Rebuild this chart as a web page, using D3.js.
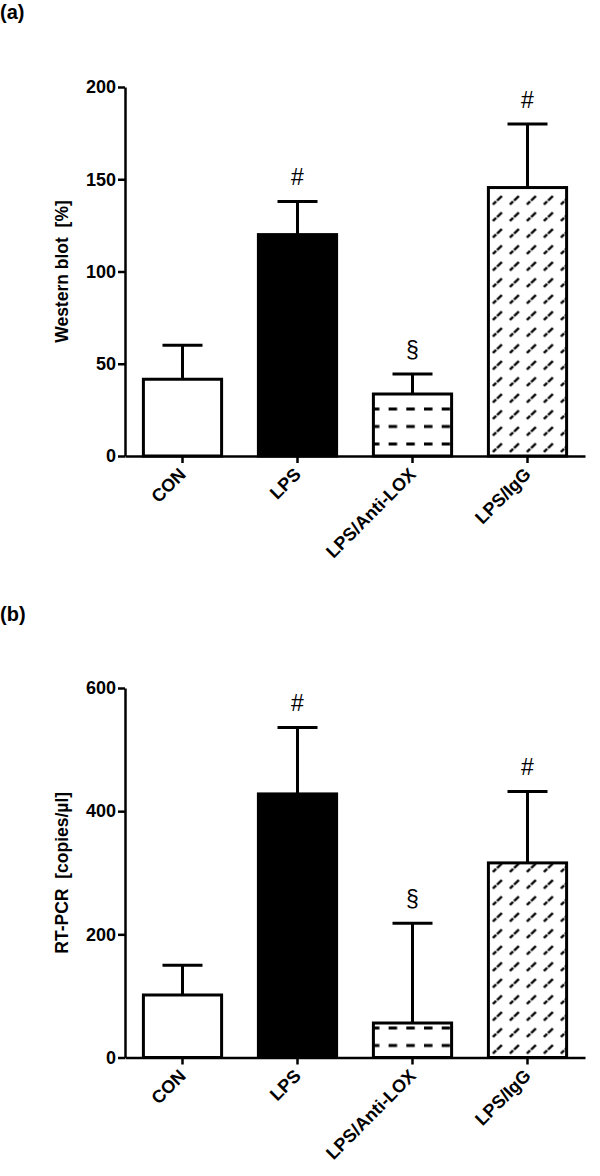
<!DOCTYPE html>
<html>
<head>
<meta charset="utf-8">
<script src="https://cdn.jsdelivr.net/npm/d3@7"></script>
<style>
  body { margin: 0; background: #fff; }
  svg { display: block; }
  text { font-family: "Liberation Sans", Arial, sans-serif; }
</style>
</head>
<body>
<script>
// groups on the x axis
var groups = ["CON", "LPS", "LPS/Anti-LOX", "LPS/IgG"];
// fill style of each group
var fills = ["white", "black", "dash", "slash"];

// (a) western blot, mean and upper error
var wbMean = [41.6, 120, 33.6, 145.5];
var wbErr  = [60, 138, 44.5, 180];
var wbTicks = [0, 50, 100, 150, 200];

// (b) RT-PCR, mean and upper error
var pcrMean = [101.5, 428, 56, 316];
var pcrErr  = [150, 536, 218, 432];
var pcrTicks = [0, 200, 400, 600];

// significance marks over each bar
var marks = ["", "#", "\u00a7", "#"];

var W = 600, H = 1176;
var svg = d3.select("body").append("svg")
    .attr("width", W)
    .attr("height", H);

var defs = svg.append("defs");

var x = d3.scaleBand()
    .domain(groups)
    .range([125, 585])
    .paddingInner(0.32)
    .paddingOuter(0.16);

function makePatterns(id, y0) {
  // horizontal dashes
  var p1 = defs.append("pattern")
      .attr("id", "dash" + id)
      .attr("patternUnits", "userSpaceOnUse")
      .attr("x", x("LPS/Anti-LOX") - 2.5)
      .attr("y", y0 - 12 - 8.75)
      .attr("width", 17.7)
      .attr("height", 17.5);
  p1.append("rect").attr("width", 17.7).attr("height", 17.5).attr("fill", "white");
  p1.append("line")
      .attr("x1", 0).attr("x2", 8.5)
      .attr("y1", 8.75).attr("y2", 8.75)
      .attr("stroke", "black").attr("stroke-width", 3);

  // little broken slashes
  var p2 = defs.append("pattern")
      .attr("id", "slash" + id)
      .attr("patternUnits", "userSpaceOnUse")
      .attr("x", x("LPS/IgG") + 2)
      .attr("y", y0)
      .attr("width", 17)
      .attr("height", 16.5);
  p2.append("rect").attr("width", 17).attr("height", 16.5).attr("fill", "white");
  p2.append("line")
      .attr("x1", 2.5).attr("y1", 12.5)
      .attr("x2", 11.5).attr("y2", 4)
      .attr("stroke", "black").attr("stroke-width", 2.3)
      .attr("stroke-dasharray", "4.5,1.3,8");
}

function drawPanel(id, mean, err, ticks, yRange, yLabel, letter, letterY) {
  var y = d3.scaleLinear()
      .domain([0, d3.max(ticks)])
      .range(yRange);
  var y0 = y(0);

  makePatterns(id, y0);

  var g = svg.append("g");

  g.append("text")
      .attr("x", 0)
      .attr("y", letterY)
      .attr("font-size", 20)
      .attr("font-weight", "bold")
      .text(letter);

  // error bars (drawn first so the bar covers the stem)
  var bw = x.bandwidth();
  var capW = 40;
  groups.forEach(function(d, i) {
    var cx = x(d) + bw / 2;
    g.append("line")
        .attr("x1", cx).attr("x2", cx)
        .attr("y1", y(mean[i])).attr("y2", y(err[i]))
        .attr("stroke", "black").attr("stroke-width", 3);
    g.append("line")
        .attr("x1", cx - capW / 2).attr("x2", cx + capW / 2)
        .attr("y1", y(err[i])).attr("y2", y(err[i]))
        .attr("stroke", "black").attr("stroke-width", 3);
    if (marks[i]) {
      g.append("text")
          .attr("x", cx)
          .attr("y", y(err[i]) - 16)
          .attr("text-anchor", "middle")
          .attr("font-size", 23)
          .text(marks[i]);
    }
  });

  g.selectAll("rect.bar")
    .data(groups)
    .enter().append("rect")
      .attr("class", "bar")
      .attr("x", function(d) { return x(d); })
      .attr("y", function(d, i) { return y(mean[i]); })
      .attr("width", bw)
      .attr("height", function(d, i) { return y0 - y(mean[i]); })
      .attr("fill", function(d, i) {
        var f = fills[i];
        if (f === "dash") return "url(#dash" + id + ")";
        if (f === "slash") return "url(#slash" + id + ")";
        return f;
      })
      .attr("stroke", "black")
      .attr("stroke-width", 3);

  // axes
  var yAxis = g.append("g")
      .attr("transform", "translate(125,0)")
      .call(d3.axisLeft(y).tickValues(ticks).tickSize(7).tickSizeOuter(0).tickPadding(2));
  var xAxis = g.append("g")
      .attr("transform", "translate(0," + y0 + ")")
      .call(d3.axisBottom(x).tickSize(7).tickSizeOuter(0));

  [yAxis, xAxis].forEach(function(a) {
    a.select(".domain").attr("stroke-width", 2.5);
    a.selectAll(".tick line").attr("stroke-width", 2.5);
    a.selectAll("text")
        .attr("font-family", "'Liberation Sans', Arial, sans-serif")
        .attr("font-size", 18)
        .attr("font-weight", "bold")
        .attr("fill", "black");
  });

  xAxis.selectAll(".tick text")
      .attr("text-anchor", "end")
      .attr("y", 0)
      .attr("dy", "0.35em")
      .attr("transform", "translate(0,15) rotate(-45)");

  g.append("text")
      .attr("transform", "translate(68," + (yRange[0] + yRange[1]) / 2 + ") rotate(-90)")
      .attr("text-anchor", "middle")
      .attr("font-size", 17.5)
      .attr("font-weight", "bold")
      .attr("xml:space", "preserve")
      .style("white-space", "pre")
      .text(yLabel);
}

drawPanel("a", wbMean, wbErr, wbTicks, [456, 87], "Western blot  [%]", "(a)", 19);
drawPanel("b", pcrMean, pcrErr, pcrTicks, [1057.5, 688], "RT-PCR  [copies/\u00b5l]", "(b)", 621);
</script>
</body>
</html>
